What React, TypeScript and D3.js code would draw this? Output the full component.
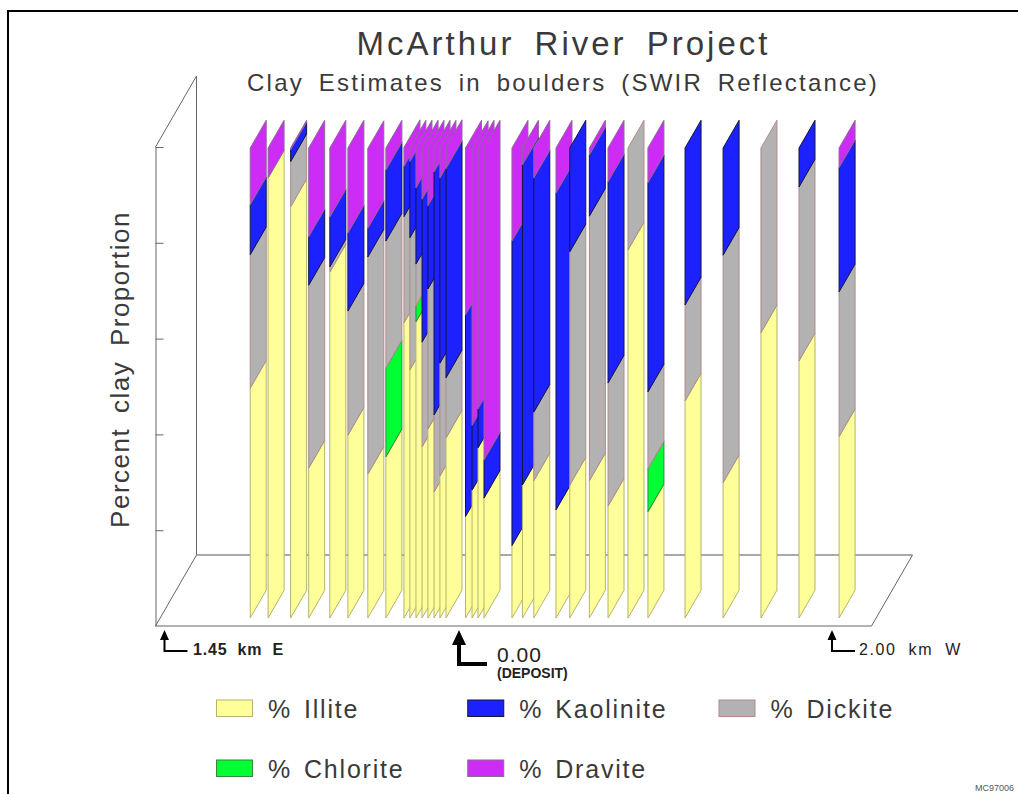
import { useEffect, useRef } from 'react'
import * as d3 from 'd3'

// distance along the traverse in km: negative = east of the deposit, positive = west
const stations = [
  -1.028, -0.94, -0.829, -0.74, -0.636, -0.547, -0.449, -0.36, -0.271, -0.242, -0.212, -0.182,
  -0.153, -0.123, -0.094, -0.064, 0.035, 0.07, 0.102, 0.134, 0.284, 0.34, 0.401, 0.52, 0.594,
  0.699, 0.799, 0.906, 1.013, 1.212, 1.416, 1.619, 1.823, 2.038,
]

// clay proportions (%) per station
const illite = [
  48.9, 93.6, 87.5, 31.9, 73.6, 38.9, 30.6, 34.3, 62.8, 52.8, 63.0, 36.4, 40.2, 26.8, 30.2, 38.3,
  21.6, 27.2, 36.2, 25.5, 15.4, 28.3, 29.2, 23.0, 28.3, 29.2, 23.8, 78.3, 22.6, 46.2, 28.8, 60.7,
  54.7, 38.6,
]
const chlorite = [
  0, 0, 0, 0, 0, 0, 0, 18.9, 0, 0, 3.4, 0, 0, 0, 0, 0,
  0, 0, 0, 0, 0, 0, 0, 0, 0, 0, 0, 0, 9.1, 0, 0, 0,
  0, 0,
]
const dickite = [
  28.4, 0, 9.6, 38.9, 1.1, 26.4, 46.2, 27.0, 22.6, 28.1, 8.9, 22.3, 29.8, 16.4, 24.0, 12.8,
  0, 0, 0, 0, 0, 0, 14.6, 0, 49.6, 56.3, 26.2, 21.7, 16.4, 20.4, 48.4, 39.3,
  37.0, 30.8,
]
const kaolinite = [
  10.6, 0, 2.5, 10.3, 10.6, 16.6, 6.1, 15.1, 10.7, 16.2, 16.2, 30.4, 17.7, 51.7, 39.4, 44.5,
  42.9, 13.8, 8.3, 8.1, 64.8, 68.1, 49.8, 67.4, 22.1, 13.0, 42.8, 0, 44.5, 33.4, 22.8, 0,
  8.3, 26.4,
]
const dravite = [
  12.1, 6.4, 0.4, 18.9, 14.7, 18.1, 17.0, 4.7, 4.0, 2.9, 8.5, 10.9, 12.3, 5.1, 6.4, 4.5,
  35.5, 58.9, 55.5, 66.4, 19.8, 3.6, 6.4, 9.6, 0, 1.5, 7.2, 0, 7.4, 0, 0, 0,
  0, 4.2,
]

const minerals = ['Illite', 'Chlorite', 'Dickite', 'Kaolinite', 'Dravite']
const fills = ['#ffff99', '#00ff33', '#b2b2b2', '#1c22ff', '#cc2cf5']
const strokes = ['#b4b46e', '#2f8a3a', '#b08a88', '#14143c', '#8a6a96']
const legendOrder = ['Illite', 'Kaolinite', 'Dickite', 'Chlorite', 'Dravite']
const yTicks = [20, 40, 60, 80, 100]

const FONT = '"Liberation Sans", Arial, sans-serif'
const INK = '#3a3a3a'

export default function App() {
  const svgRef = useRef<SVGSVGElement>(null)

  useEffect(() => {
    if (!svgRef.current) return
    const svg = d3.select(svgRef.current)
    svg.selectAll('*').remove()

    // page frame: top and left rule only
    const frame = d3.path()
    frame.moveTo(1018, 11)
    frame.lineTo(8, 11)
    frame.lineTo(8, 794)
    svg.append('path').attr('d', frame.toString()).attr('fill', 'none').attr('stroke', '#000').attr('stroke-width', 2)

    const depthX = 41
    const depthY = 71
    const xScale = d3.scaleLinear().domain([-1.45, 0, 2]).range([164.5, 459, 832])
    const axisY = d3.scaleLinear().domain([0, 100]).range([626, 147])
    const barY = d3.scaleLinear().domain([0, 100]).range([618, 148])
    const barW = 16
    const barRise = 27.7

    const line = d3.line()

    // back wall and floor
    const left = 155.5
    const right = 871.5
    const floorBack = axisY(0) - depthY
    const frameG = svg.append('g').attr('fill', 'none').attr('stroke', '#666').attr('stroke-width', 1)
    frameG.append('path').attr('d', line([
      [left, axisY(100)],
      [left + depthX, axisY(100) - depthY],
      [left + depthX, floorBack],
      [left, axisY(0)],
      [right, axisY(0)],
      [right + depthX, floorBack],
    ]))
    frameG.append('path')
      .attr('d', line([[left + depthX, floorBack], [right + depthX, floorBack]]))
      .attr('stroke', '#8c8c8c')
      .attr('stroke-width', 1.5)

    const yAxis = d3.axisRight(axisY).tickValues(yTicks).tickSize(8).tickSizeOuter(0).tickFormat(() => '')
    const axisG = svg.append('g').attr('transform', `translate(${left},0)`).call(yAxis as any)
    axisG.selectAll('.domain, .tick line').attr('stroke', '#666')

    // stacked strips, left to right so later ones overlap earlier ones
    const rows = stations.map((km, i) => ({
      km,
      Illite: illite[i],
      Chlorite: chlorite[i],
      Dickite: dickite[i],
      Kaolinite: kaolinite[i],
      Dravite: dravite[i],
    }))
    const stacked = d3.stack<any>().keys(minerals)(rows)

    rows.forEach((row, i) => {
      const x = xScale(row.km)
      stacked.forEach((series, k) => {
        const [v0, v1] = series[i]
        if (v1 - v0 <= 0) return
        svg.append('path')
          .attr('d', line([
            [x, barY(v0)],
            [x + barW, barY(v0) - barRise],
            [x + barW, barY(v1) - barRise],
            [x, barY(v1)],
          ]) + 'Z')
          .attr('fill', fills[k])
          .attr('stroke', strokes[k])
          .attr('stroke-width', 1)
      })
    })

    const addText = (
      str: string, x: number, y: number, size: number,
      opts: { weight?: string; spacing?: number; words?: number; fill?: string; anchor?: string; transform?: string } = {},
    ) => svg.append('text')
      .attr('x', x)
      .attr('y', y)
      .attr('font-family', FONT)
      .attr('font-size', size)
      .attr('font-weight', opts.weight ?? 'normal')
      .attr('letter-spacing', opts.spacing ?? 0)
      .attr('word-spacing', opts.words ?? 0)
      .attr('fill', opts.fill ?? INK)
      .attr('text-anchor', opts.anchor ?? 'start')
      .attr('transform', opts.transform ?? null)
      .text(str)

    addText('McArthur River Project', 563.5, 55, 33, { anchor: 'middle', spacing: 3, words: 8 })
    addText('Clay Estimates in boulders (SWIR Reflectance)', 563, 91, 24, { anchor: 'middle', spacing: 2.2, words: 6 })
    addText('Percent clay Proportion', 0, 0, 26, {
      anchor: 'middle', spacing: 1.5, words: 6, transform: 'translate(129,369.5) rotate(-90)',
    })

    // distance markers
    const marker = (km: number, stemW: number, headW: number, headH: number, bottom: number, arm: number) => {
      const x = xScale(km)
      svg.append('path')
        .attr('d', line([[x, bottom], [x, 630 + headH - 1]]) + line([[x - stemW / 2, bottom], [x + arm, bottom]]))
        .attr('stroke', '#000').attr('stroke-width', stemW).attr('fill', 'none')
      svg.append('path')
        .attr('d', line([[x, 630], [x + headW / 2, 630 + headH], [x - headW / 2, 630 + headH]]) + 'Z')
        .attr('fill', '#000')
    }
    marker(-1.45, 2, 9, 10, 651, 23)
    marker(0, 4, 14, 15, 664, 28)
    marker(2, 2, 9, 10, 651, 23)

    addText('1.45 km E', 193, 655, 16, { weight: 'bold', fill: '#222', spacing: 0.8, words: 5 })
    addText('0.00', 497, 662, 21, { fill: '#222', spacing: 1 })
    addText('(DEPOSIT)', 497, 678, 14, { weight: 'bold', fill: '#222' })
    addText('2.00 km W', 859, 655, 16, { fill: '#222', spacing: 1.6, words: 6 })
    addText('MC97006', 975, 791, 9, { fill: '#555' })

    // legend
    const legendX = d3.scalePoint<number>().domain([0, 1, 2]).range([216, 718.5])
    const legendY = d3.scalePoint<number>().domain([0, 1]).range([708, 768])
    legendOrder.forEach((name, i) => {
      const k = minerals.indexOf(name)
      const x = legendX(i % 3) as number
      const y = legendY(Math.floor(i / 3)) as number
      svg.append('rect')
        .attr('x', x + 0.5).attr('y', y - 8).attr('width', 36).attr('height', 16.5)
        .attr('fill', fills[k]).attr('stroke', strokes[k])
      addText('%', x + 52, y + 10, 25)
      addText(name, x + 88, y + 10, 25, { spacing: 1.8 })
    })
  }, [])

  return (
    <svg
      ref={svgRef}
      width={1018}
      height={794}
      style={{ position: 'absolute', left: 0, top: 0, background: '#fff' }}
    />
  )
}
